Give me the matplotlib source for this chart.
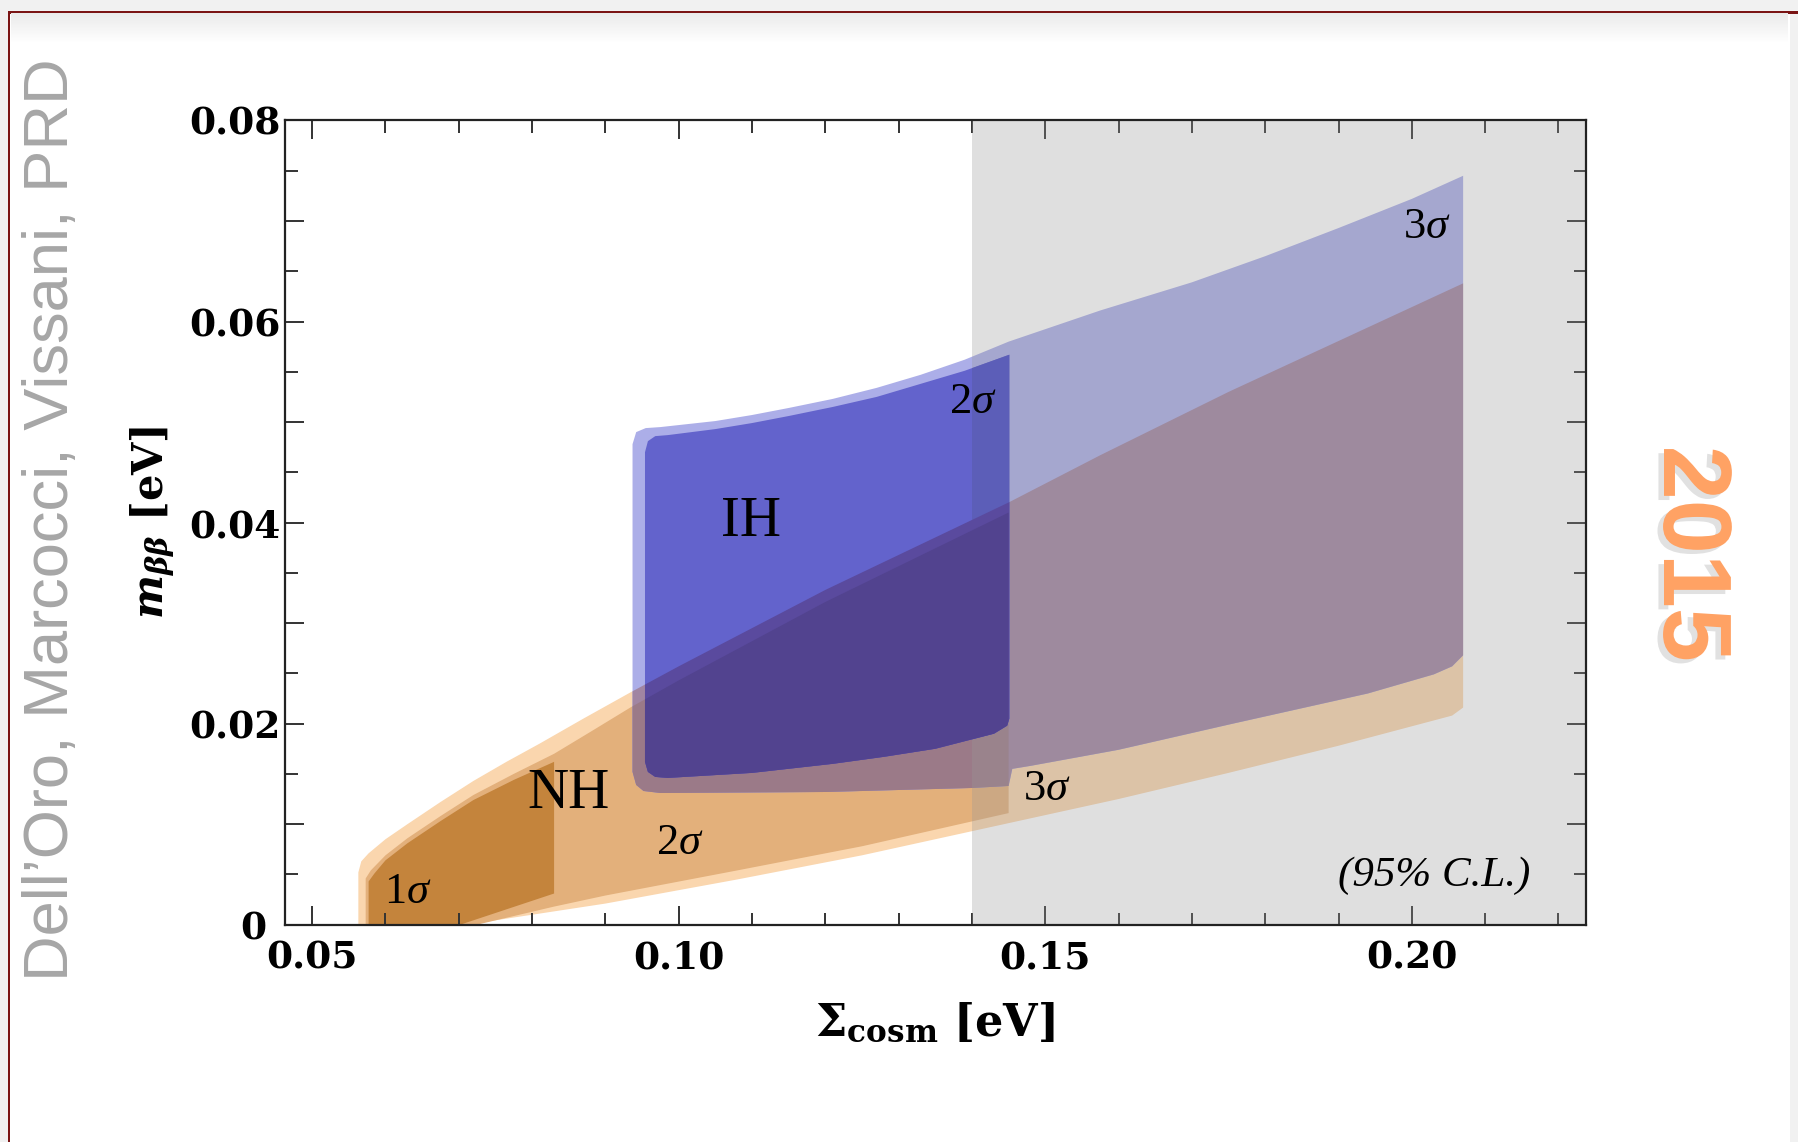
import numpy as np
import matplotlib
matplotlib.use('Agg')
import matplotlib.pyplot as plt
import matplotlib.patheffects as pe
from matplotlib.patches import Polygon, Rectangle

plt.rcParams['mathtext.fontset'] = 'custom'
plt.rcParams['mathtext.rm'] = 'Liberation Serif'
plt.rcParams['mathtext.it'] = 'Liberation Serif:italic'
plt.rcParams['mathtext.bf'] = 'DejaVu Serif:bold'
plt.rcParams['mathtext.bfit'] = 'DejaVu Serif:bold:italic'

# ---- region outlines (Sigma_cosm [eV], m_bb [eV]) ----
# normal hierarchy, 3 sigma
nh3_x = [0.0563, 0.0563, 0.0567, 0.0577, 0.060, 0.063, 0.0675, 0.072, 0.0765, 0.081, 0.087, 0.0934,
         0.10, 0.11, 0.12, 0.145, 0.1575, 0.175, 0.207,
         0.207, 0.2055, 0.19, 0.175, 0.16, 0.14, 0.125, 0.108, 0.09, 0.0711]
nh3_y = [0.0, 0.0052, 0.0063, 0.0071, 0.0085, 0.0100, 0.0122, 0.0143, 0.0162, 0.0180, 0.0205, 0.0231,
         0.0257, 0.0295, 0.0333, 0.0420, 0.0467, 0.0530, 0.0638,
         0.0216, 0.0208, 0.0178, 0.0151, 0.0125, 0.0093, 0.0069, 0.0045, 0.0021, 0.0]
# normal hierarchy, 2 sigma
nh2_x = [0.0573, 0.0573, 0.0580, 0.060, 0.063, 0.0675, 0.072, 0.0775, 0.083, 0.088, 0.0934,
         0.10, 0.11, 0.12, 0.145,
         0.145, 0.125, 0.108, 0.09, 0.083, 0.0725]
nh2_y = [0.0, 0.0046, 0.0054, 0.0069, 0.0086, 0.0108, 0.0129, 0.0150, 0.0170, 0.0192, 0.0216,
         0.0243, 0.0282, 0.0321, 0.0410,
         0.0111, 0.0078, 0.0054, 0.0029, 0.0018, 0.0]
# normal hierarchy, 1 sigma
nh1_x = [0.0577, 0.0577, 0.0585, 0.060, 0.063, 0.0675, 0.072, 0.0775, 0.083, 0.083, 0.0702]
nh1_y = [0.0, 0.0043, 0.0051, 0.0064, 0.0081, 0.0103, 0.0124, 0.0144, 0.0162, 0.0031, 0.0]

# inverted hierarchy, 3 sigma
ih3_x = [0.0937, 0.0937, 0.0942, 0.0955, 0.0975, 0.105, 0.11, 0.115, 0.121, 0.127, 0.133, 0.139, 0.145,
         0.1575, 0.17, 0.18, 0.19, 0.20, 0.207,
         0.207, 0.2055, 0.203, 0.194, 0.1756, 0.16, 0.148, 0.1455, 0.1450, 0.14, 0.12, 0.0975, 0.0952, 0.0942]
ih3_y = [0.0152, 0.0478, 0.0490, 0.0494, 0.0495, 0.0501, 0.0507, 0.0514, 0.0523, 0.0534, 0.0547, 0.0562, 0.0580,
         0.0611, 0.0639, 0.0665, 0.0693, 0.0722, 0.0745,
         0.0268, 0.0257, 0.0249, 0.0230, 0.0200, 0.0174, 0.0158, 0.0155, 0.0138, 0.0136, 0.0132, 0.0131, 0.0133,
         0.0139]
# inverted hierarchy, 2 sigma
ih2_x = [0.0954, 0.0954, 0.0958, 0.0968, 0.0985, 0.105, 0.11, 0.115, 0.121, 0.127, 0.133, 0.139, 0.1451,
         0.1451, 0.1448, 0.143, 0.135, 0.128, 0.121, 0.11, 0.0985, 0.0968, 0.0958]
ih2_y = [0.0162, 0.0470, 0.0481, 0.0486, 0.0487, 0.0493, 0.0499, 0.0506, 0.0515, 0.0525, 0.0538, 0.0551, 0.0567,
         0.0205, 0.0198, 0.0190, 0.0175, 0.0167, 0.0160, 0.0151, 0.0146, 0.0147, 0.0152]

excluded_from = 0.14   # cosmology-excluded band starts here

x_ticks = [0.05, 0.10, 0.15, 0.20]
x_ticklabels = ['0.05', '0.10', '0.15', '0.20']
y_ticks = [0.0, 0.01, 0.02, 0.03, 0.04, 0.05, 0.06, 0.07, 0.08]
y_ticklabels = ['0 ', '', '0.02', '', '0.04', '', '0.06', '', '0.08']

fig = plt.figure(figsize=(17.99, 11.42), dpi=100)
ax = fig.add_axes([0.1582, 0.1903, 0.7232, 0.7042])
ax.set_xlim(0.04624, 0.22371)
ax.set_ylim(0, 0.08)


def region(x, y, color, z, clip=None):
    p = ax.fill(x, y, color=color, lw=0, zorder=z)[0]
    if clip is not None:
        p.set_clip_path(clip)
    return p


def outline(x, y):
    return Polygon(np.column_stack([x, y]), closed=True, transform=ax.transData)


region(nh3_x, nh3_y, '#fad6ae', 1.0)
region(nh2_x, nh2_y, '#e3b07b', 1.1)
region(nh1_x, nh1_y, '#c4843c', 1.2)

region(ih3_x, ih3_y, '#acaee8', 1.3)
region(ih3_x, ih3_y, '#a185a2', 1.4, clip=outline(nh3_x, nh3_y))
region(ih3_x, ih3_y, '#9b7a88', 1.5, clip=outline(nh2_x, nh2_y))
region(ih2_x, ih2_y, '#6363cc', 1.6)

xmax = ax.get_xlim()[1]
ax.axvspan(excluded_from, xmax, color='#989898', alpha=0.3, lw=0, zorder=2.0)

# 2 sigma IH drawn over the grey band, overlaps with NH on top
grey_band = Rectangle((excluded_from, 0), xmax - excluded_from, 0.08, transform=ax.transData)
region(ih2_x, ih2_y, '#5c5eb8', 2.1, clip=grey_band)
region(ih2_x, ih2_y, '#5a4a9e', 2.2, clip=outline(nh3_x, nh3_y))
region(ih2_x, ih2_y, '#52438f', 2.3, clip=outline(nh2_x, nh2_y))

# ticks and frame
ax.set_xticks(x_ticks)
ax.set_xticklabels(x_ticklabels)
ax.set_xticks(np.arange(0.05, 0.225, 0.01), minor=True)
ax.set_yticks(y_ticks)
ax.set_yticklabels(y_ticklabels)
ax.set_yticks(np.arange(0, 0.0801, 0.005), minor=True)
ax.tick_params(which='both', direction='in', top=True, right=True, color='#333333')
ax.tick_params(which='major', length=13.5, width=1.4)
ax.tick_params(which='minor', length=9, width=1.4)
ax.tick_params(axis='x', which='major', pad=11)
ax.tick_params(axis='y', which='major', pad=3)
for lab in ax.get_xticklabels() + ax.get_yticklabels():
    lab.set_family('DejaVu Serif')
    lab.set_weight('bold')
    lab.set_size(27)
for s in ax.spines.values():
    s.set_linewidth(1.6)
    s.set_color('#222222')

ax.set_xlabel(r'$\mathbf{\Sigma}_{\mathbf{cosm}}$ [eV]', family='DejaVu Serif', weight='bold', fontsize=32, va='top')
ax.xaxis.set_label_coords(0.50, -0.096)
ax.set_ylabel(r'$\mathbfit{m}_{\mathbfit{\beta\beta}}$ [eV]', family='DejaVu Serif', weight='bold', fontsize=30,
              va='center')
ax.yaxis.set_label_coords(-0.1014, 0.5)

# labels inside the plot
lab_kw = dict(family='Liberation Serif', ha='center', va='center', zorder=3)
ax.text(0.1099, 0.0401, 'IH', fontsize=41, **lab_kw)
ax.text(0.0849, 0.0130, 'NH', fontsize=41, **lab_kw)
ax.text(0.0630, 0.0033, r'1$\sigma$', fontsize=32, **lab_kw)
ax.text(0.1001, 0.0081, r'2$\sigma$', fontsize=32, **lab_kw)
ax.text(0.1502, 0.0135, r'3$\sigma$', fontsize=32, **lab_kw)
ax.text(0.1401, 0.0520, r'2$\sigma$', fontsize=32, **lab_kw)
ax.text(0.2020, 0.0694, r'3$\sigma$', fontsize=32, **lab_kw)
ax.text(0.2031, 0.0049, '(95% C.L.)', fontsize=31, style='italic', **lab_kw)

# slide decorations
W, H = 1799.0, 1142.0
fig.add_artist(Rectangle((0, 0), 8 / W, 1, transform=fig.transFigure, color='#f1f1f1', lw=0))
fig.add_artist(Rectangle((0, 1 - 11 / H), 1, 11 / H, transform=fig.transFigure, color='#f1f1f1', lw=0))
fig.add_artist(Rectangle((1790 / W, 0), 9 / W, 1, transform=fig.transFigure, color='#f1f1f1', lw=0))
shade = np.linspace(0.92, 1.0, 30)[:, None, None] * np.ones((1, 1777, 3))
fig.figimage(shade, xo=11, yo=int(H - 13 - 30), zorder=1)
fig.add_artist(Rectangle((8 / W, 0), 2.5 / W, 1 - 11 / H, transform=fig.transFigure, color='#7a1414', lw=0))
fig.add_artist(Rectangle((8 / W, 1 - 13.5 / H), 1, 2.5 / H, transform=fig.transFigure, color='#7a1414', lw=0))

fig.text(52 / W, 1 - 520 / H, "Dell’Oro, Marcocci, Vissani, PRD", rotation=90, ha='center', va='center',
         color='#a6a6a6', fontsize=45.5, family='Liberation Sans')
fig.text(1689 / W, 1 - 554 / H, '2015', rotation=-90, ha='center', va='center', color='#ffa264',
         fontsize=70, weight='bold', family='Liberation Sans',
         path_effects=[pe.withSimplePatchShadow(offset=(-4, -3), shadow_rgbFace='#888888', alpha=0.25)])

fig.savefig('out.png', dpi=100)
